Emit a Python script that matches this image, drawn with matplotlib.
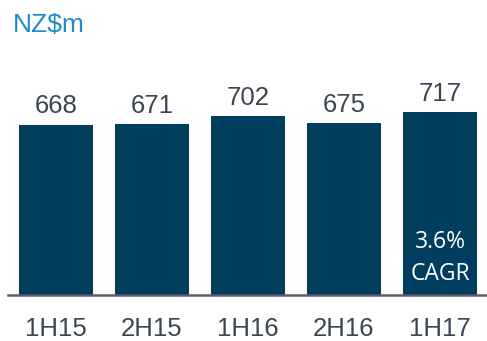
import matplotlib.pyplot as plt

periods = ["1H15", "2H15", "1H16", "2H16", "1H17"]
revenue = [668, 671, 702, 675, 717]
cagr_note = "3.6%\nCAGR"

bar_color = "#003d5f"
text_color = "#3b4652"

fig = plt.figure(figsize=(4.87, 3.41), dpi=100)
ax = fig.add_axes([8 / 487, 1 - 295 / 341, 480 / 487, 275 / 341])

x = range(len(periods))
ax.bar(x, revenue, width=0.77, color=bar_color)

for i, v in enumerate(revenue):
    ax.text(i, v + 45, str(v), ha="center", va="baseline",
            fontsize=18.5, family="Liberation Sans", color=text_color)

ax.text(4, 58, cagr_note, ha="center", va="baseline", color="white",
        fontsize=16.5, family="Open Sans", linespacing=1.45)

ax.set_xlim(-0.5, 4.5)
ax.set_ylim(0, 1080)
ax.set_xticks(list(x))
ax.set_xticklabels(periods, fontsize=18.5, family="Liberation Sans", color=text_color)
ax.tick_params(axis="x", length=0, pad=16)
ax.set_yticks([])
for side in ["top", "right", "left"]:
    ax.spines[side].set_visible(False)
ax.spines["bottom"].set_color("#56606a")
ax.spines["bottom"].set_linewidth(1.8)

fig.text(13 / 487, 1 - 32 / 341, "NZ$m", fontsize=19, family="Liberation Sans",
         color="#1e8cc8", ha="left", va="baseline")

fig.savefig("out.png", dpi=100)
